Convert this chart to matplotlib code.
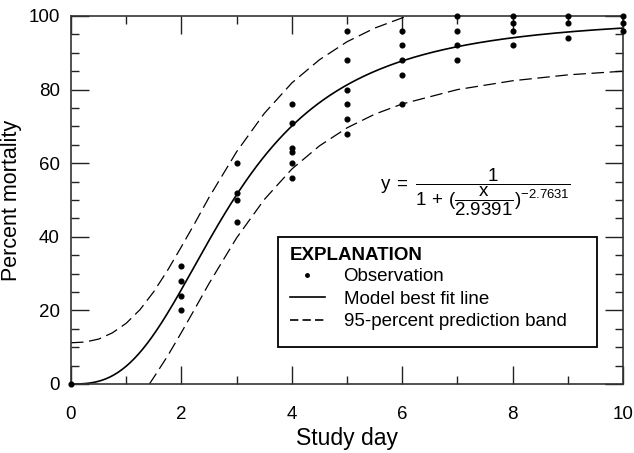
import numpy as np
import matplotlib
matplotlib.use("Agg")
import matplotlib.pyplot as plt
from matplotlib.lines import Line2D
from matplotlib.patches import Rectangle

plt.rcParams['font.family'] = ['Liberation Sans', 'DejaVu Sans']
plt.rcParams['mathtext.fontset'] = 'custom'
plt.rcParams['mathtext.rm'] = 'Liberation Sans'
plt.rcParams['mathtext.it'] = 'Liberation Sans'
plt.rcParams['mathtext.bf'] = 'Liberation Sans:bold'

# Observations (study day, percent mortality)
obs_day = [0,
           2, 2, 2, 2,
           3, 3, 3, 3,
           4, 4, 4, 4, 4, 4,
           5, 5, 5, 5, 5, 5,
           6, 6, 6, 6, 6,
           7, 7, 7, 7,
           8, 8, 8, 8,
           9, 9, 9,
           10, 10, 10]
obs_mort = [0,
            20, 24, 28, 32,
            44, 50, 52, 60,
            56, 60, 63, 64, 71, 76,
            68, 72, 76, 80, 88, 96,
            76, 84, 88, 92, 96,
            88, 92, 96, 100,
            92, 96, 98, 100,
            94, 98, 100,
            96, 98, 100]

# Model parameters printed on the chart
x0 = 2.9391
b = -2.7631

# 95-percent prediction band
upper_day = [0, 0.25, 0.5, 0.75, 1, 1.25, 1.5, 1.75, 2, 2.25, 2.5, 3, 3.5, 4, 4.5, 5, 5.5, 6, 6.5]
upper_val = [11.2, 11.4, 12.2, 13.9, 16.5, 20.2, 25.1, 30.9, 37.3, 43.9, 50.7, 63.1, 73.5, 81.8, 88.1, 93.0, 96.7, 99.5, 101.7]
lower_day = [1.42, 1.5, 1.75, 2, 2.25, 2.5, 3, 3.5, 4, 4.5, 5, 5.5, 6, 7, 8, 9, 10]
lower_val = [0, 1.8, 7.6, 14.0, 20.6, 27.3, 39.7, 50.1, 58.4, 64.7, 69.6, 73.3, 76.1, 80.0, 82.4, 84.0, 85.0]

fig = plt.figure(figsize=(6.34, 4.53), dpi=100)
ax = fig.add_axes([71/634, 1-384/453, 552/634, 368/453])

xs = np.linspace(0.001, 10, 400)
ys = 100.0 / (1.0 + (xs / x0) ** b)
ax.plot(np.r_[0, xs], np.r_[0, ys], color='black', lw=1.2)
dash = (10, 4.5)
ax.plot(upper_day, upper_val, color='black', lw=0.9, dashes=dash)
ax.plot(lower_day, lower_val, color='black', lw=0.9, dashes=dash)
ax.plot(obs_day, obs_mort, 'o', color='black', ms=3.4, clip_on=False, zorder=5)

ax.set_xlim(0, 10)
ax.set_ylim(0, 100)
ax.set_xticks(range(0, 11, 2))
ax.set_xticks(range(0, 11, 1), minor=True)
ax.set_yticks(range(0, 101, 20))
ax.set_yticks(range(0, 101, 5), minor=True)
ax.tick_params(which='both', direction='in', top=True, right=True, color='#222222', width=1.0)
ax.tick_params(which='major', length=13, labelsize=13.5)
ax.tick_params(axis='x', which='major', pad=16)
ax.tick_params(axis='y', which='major', pad=8)
ax.tick_params(which='minor', length=5.5)
for s in ax.spines.values():
    s.set_color('#333333')
    s.set_linewidth(1.2)

ax.set_xlabel('Study day', fontsize=16.5, labelpad=3)
ax.set_ylabel('Percent mortality', fontsize=15.5, labelpad=5)

ax.text(0.732, 0.522,
        r'$\mathrm{y}\;=\;\dfrac{1}{1\,+\,(\dfrac{\mathrm{x}}{2.9391})^{-2.7631}}$',
        transform=ax.transAxes, ha='center', va='center', fontsize=13.5)

# Explanation box
ax.add_patch(Rectangle((0.375, 0.1005), 0.578, 0.2995, transform=ax.transAxes,
                       facecolor='white', edgecolor='black', lw=1.3, zorder=4))

handles = [Line2D([], [], ls='none', marker='o', color='black', ms=2.5),
           Line2D([], [], color='black', lw=1.2),
           Line2D([], [], color='black', lw=1.2, dashes=(5, 2.5))]
labels = ['Observation', 'Model best fit line', '95-percent prediction band']
leg = ax.legend(handles, labels, loc='upper left',
                bbox_to_anchor=(0.397, 0.372),
                title='EXPLANATION', alignment='left', fontsize=13.5,
                title_fontproperties={'weight': 'bold', 'size': 13.5},
                frameon=False, handlelength=1.85, handletextpad=1.0,
                labelspacing=0.28, borderpad=0, borderaxespad=0)
leg._legend_box.sep = 3
leg.set_zorder(6)

fig.savefig('out.png', dpi=100)
